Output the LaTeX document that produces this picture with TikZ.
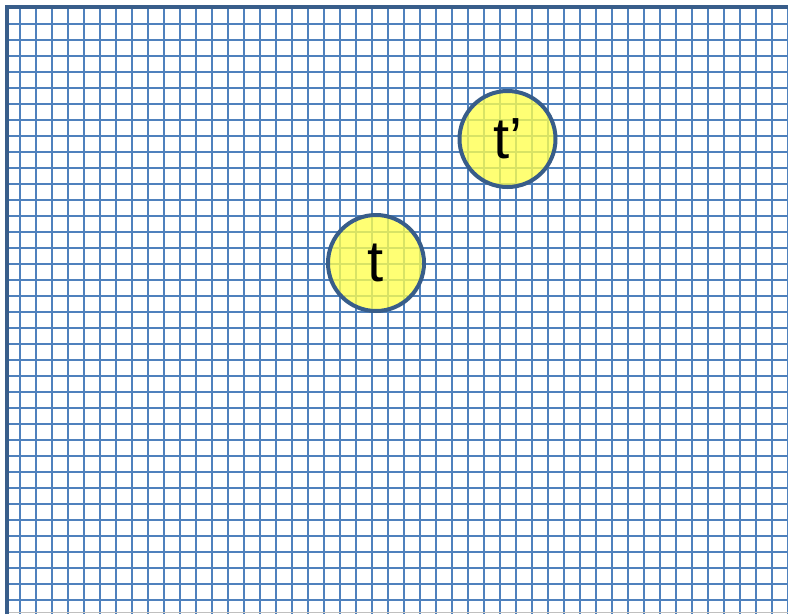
\documentclass[tikz,border=0pt]{standalone}
\usepackage{fontspec}
\setmainfont{Liberation Sans}
\definecolor{gridblue}{HTML}{4F81BD}
\definecolor{frameblue}{HTML}{385D8A}
\definecolor{dotyellow}{HTML}{FFFF4D}
\tikzset{
  gridline/.style={draw=gridblue, line width=2pt},
  frameline/.style={draw=frameblue, line width=4.5pt},
  dot/.style={circle, draw=frameblue, line width=4pt, fill=dotyellow, fill opacity=0.78, text opacity=1, minimum size=96pt, inner sep=0pt, font=\fontsize{58}{60}\selectfont}
}
\begin{document}
\begin{tikzpicture}[x=1pt, y=-1pt]
\useasboundingbox (0,0) rectangle (788,614);
\fill[white] (0,0) rectangle (788,614);
\foreach \k in {0,...,48} {
  \draw[gridline] ({20+16*\k},7) -- ({20+16*\k},614);
}
\foreach \k in {0,...,36} {
  \draw[gridline] (7,{24+16*\k}) -- (788,{24+16*\k});
}
\draw[gray!50, line width=1pt] (7,612.5) -- (788,612.5);
\draw[frameline] (7,614) -- (7,7) -- (788,7);
\node[dot] (t) at (376,263) {t};
\node[dot] (tp) at (507.5,139) {t’};
\end{tikzpicture}
\end{document}
